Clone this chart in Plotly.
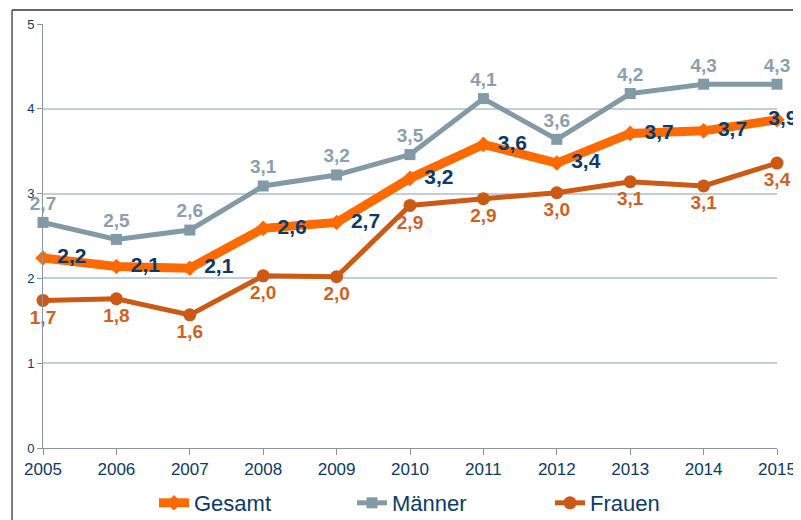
import plotly.graph_objects as go

years = [2005, 2006, 2007, 2008, 2009, 2010, 2011, 2012, 2013, 2014, 2015]
gesamt = [2.24, 2.14, 2.12, 2.59, 2.66, 3.18, 3.58, 3.36, 3.71, 3.74, 3.87]
maenner = [2.66, 2.46, 2.57, 3.09, 3.22, 3.46, 4.12, 3.64, 4.18, 4.29, 4.29]
frauen = [1.74, 1.76, 1.57, 2.03, 2.02, 2.86, 2.94, 3.01, 3.14, 3.09, 3.36]

def fmt(v):
    return f"{v:.1f}".replace(".", ",")

FONT = "Liberation Sans, Arial, sans-serif"
NAVY = "#0c3a68"

g_text = [" " + fmt(v) for v in gesamt]
g_pos = ["middle right"] * len(gesamt)
g_text[-1] = "  " + fmt(gesamt[-1])
g_pos[-1] = "middle center"

fig = go.Figure()
fig.add_trace(go.Scatter(
    x=years, y=gesamt, name="Gesamt", mode="lines+markers+text",
    line=dict(color="#ff6a00", width=9),
    marker=dict(symbol="diamond", size=12, color="#ff6a00"),
    text=g_text, textposition=g_pos,
    textfont=dict(family=FONT, size=21, color=NAVY, weight="bold"),
    cliponaxis=False,
))
fig.add_trace(go.Scatter(
    x=years, y=maenner, name="Männer", mode="lines+markers+text",
    line=dict(color="#8299a6", width=5),
    marker=dict(symbol="square", size=11, color="#8299a6"),
    text=[fmt(v) for v in maenner], textposition="top center",
    textfont=dict(family=FONT, size=19, color="#8ba0ad", weight="bold"),
    cliponaxis=False,
))
fig.add_trace(go.Scatter(
    x=years, y=frauen, name="Frauen", mode="lines+markers+text",
    line=dict(color="#cc5a14", width=5),
    marker=dict(symbol="circle", size=13, color="#cc5a14"),
    text=[fmt(v) for v in frauen], textposition="bottom center",
    textfont=dict(family=FONT, size=19, color="#d0611e", weight="bold"),
    cliponaxis=False,
))

fig.update_layout(
    width=793, height=512,
    margin=dict(l=35, r=24, t=16, b=72, autoexpand=False),
    paper_bgcolor="white", plot_bgcolor="white",
    font=dict(family=FONT, color=NAVY),
    showlegend=True,
    legend=dict(orientation="h", xref="container", yref="container",
                x=146 / 793, y=(512 - 495) / 512, xanchor="left", yanchor="middle",
                entrywidth=153, entrywidthmode="pixels",
                font=dict(size=22, color=NAVY, family=FONT)),
    xaxis=dict(range=[2005, 2015], tickmode="array", tickvals=years,
               ticks="outside", ticklen=6, tickcolor="#8a93a8",
               showline=True, linecolor="#8a93a8", linewidth=1,
               showgrid=False, zeroline=False, automargin=False,
               tickfont=dict(size=17, color=NAVY)),
    yaxis=dict(range=[0, 5], dtick=1, ticks="outside", ticklen=5, tickcolor="#8a93a8",
               showline=True, linecolor="#8a93a8", linewidth=1,
               gridcolor="#c3ced6", gridwidth=1.5, zeroline=False, automargin=False,
               tickfont=dict(size=13, color=NAVY)),
    shapes=[
        dict(type="line", xref="paper", yref="paper", x0=-0.0422, x1=1.05, y0=1.033, y1=1.033,
             line=dict(color="#333333", width=1.5)),
        dict(type="line", xref="paper", yref="paper", x0=-0.0422, x1=-0.0422, y0=1.033, y1=-0.2,
             line=dict(color="#555555", width=1.5)),
    ],
)

fig.write_html("out.html")
